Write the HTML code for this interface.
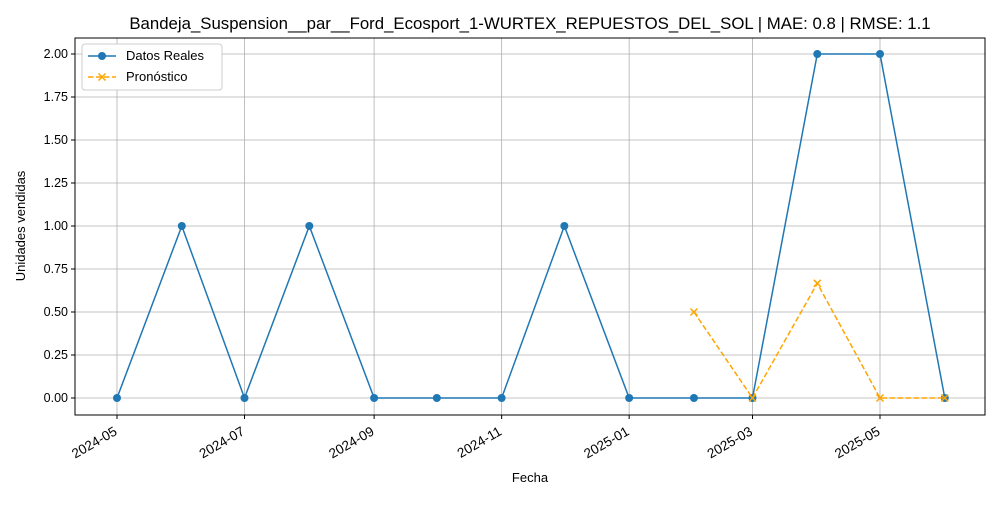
<!DOCTYPE html>
<html><head><meta charset="utf-8"><style>body{margin:0;background:#fff}svg{font-family:"Liberation Sans",sans-serif}</style></head>
<body>
<svg id="c" width="1000" height="500" xmlns="http://www.w3.org/2000/svg"></svg>
<script>
const dates=["2024-05-01","2024-06-01","2024-07-01","2024-08-01","2024-09-01","2024-10-01","2024-11-01","2024-12-01","2025-01-01","2025-02-01","2025-03-01","2025-04-01","2025-05-01","2025-06-01"];
const realValues=[0,1,0,1,0,0,0,1,0,0,0,2,2,0];
const fcDates=["2025-02-01","2025-03-01","2025-04-01","2025-05-01","2025-06-01"];
const fcValues=[0.5,0,0.6667,0,0];
const xTicks=["2024-05","2024-07","2024-09","2024-11","2025-01","2025-03","2025-05"];
const yTicks=[0,0.25,0.5,0.75,1,1.25,1.5,1.75,2];
const NS="http://www.w3.org/2000/svg",svg=document.getElementById("c");
const t0=Date.UTC(2024,4,1),t1=Date.UTC(2025,4,1);
function X(d){const p=d.split("-");const t=Date.UTC(+p[0],+p[1]-1,p[2]?+p[2]:1);return 117+(t-t0)/(t1-t0)*763;}
function Y(v){return 398-v*172;}
function el(tag,a,txt){const e=document.createElementNS(NS,tag);for(const k in a)e.setAttribute(k,a[k]);if(txt!==undefined)e.textContent=txt;svg.appendChild(e);return e;}
const L=75,R=985,T=38,B=415;
yTicks.forEach(v=>{const g=el("line",{x1:L,x2:R,y1:Y(v),y2:Y(v),stroke:"#b0b0b0","stroke-width":0.8});

el("line",{x1:L-4,x2:L,y1:Y(v),y2:Y(v),stroke:"#000"});
const t=el("text",{x:L-7,y:Y(v)+4,"text-anchor":"end","font-size":12.5},v.toFixed(2));
});
xTicks.forEach(d=>{const x=X(d);const g=el("line",{x1:x,x2:x,y1:T,y2:B,stroke:"#b0b0b0","stroke-width":0.8});

el("line",{x1:x,x2:x,y1:B,y2:B+4,stroke:"#000"});
const t=el("text",{x:x+1,y:B+19,"text-anchor":"end","font-size":13.5,transform:`rotate(-30 ${x+1} ${B+19})`},d);
});
const fr=el("rect",{x:L,y:T,width:R-L,height:B-T,fill:"none",stroke:"#000","stroke-width":1});

const rl=el("polyline",{points:dates.map((d,i)=>X(d)+","+Y(realValues[i])).join(" "),fill:"none",stroke:"#1f77b4","stroke-width":1.5});

dates.forEach((d,i)=>{const c=el("circle",{cx:X(d),cy:Y(realValues[i]),r:4,fill:"#1f77b4"});
});
const fl=el("polyline",{points:fcDates.map((d,i)=>X(d)+","+Y(fcValues[i])).join(" "),fill:"none",stroke:"orange","stroke-width":1.5,"stroke-dasharray":"5.5,2.5"});

function xm(x,y){const p=el("path",{d:`M${x-3.5},${y-3.5}L${x+3.5},${y+3.5}M${x-3.5},${y+3.5}L${x+3.5},${y-3.5}`,stroke:"orange","stroke-width":1.5});return p;}
fcDates.forEach((d,i)=>{const p=xm(X(d),Y(fcValues[i]));
});
const ti=el("text",{x:530,y:29,"text-anchor":"middle","font-size":16.8},"Bandeja_Suspension__par__Ford_Ecosport_1-WURTEX_REPUESTOS_DEL_SOL | MAE: 0.8 | RMSE: 1.1");

const xt=el("text",{x:530,y:482,"text-anchor":"middle","font-size":13},"Fecha");

const yt=el("text",{x:25,y:226,"text-anchor":"middle","font-size":13,transform:"rotate(-90 25 226)"},"Unidades vendidas");

const lg=el("rect",{x:82,y:44,width:140,height:46,fill:"#fff",stroke:"#ccc",rx:3});

el("line",{x1:88,x2:116,y1:56,y2:56,stroke:"#1f77b4","stroke-width":1.5});el("circle",{cx:102,cy:56,r:4,fill:"#1f77b4"});
const l1=el("text",{x:126,y:60,"font-size":13},"Datos Reales");
el("line",{x1:88,x2:116,y1:77,y2:77,stroke:"orange","stroke-width":1.5,"stroke-dasharray":"5.5,2.5"});xm(102,77);
const l2=el("text",{x:126,y:81,"font-size":13},"Pronóstico");
</script>
</body></html>
